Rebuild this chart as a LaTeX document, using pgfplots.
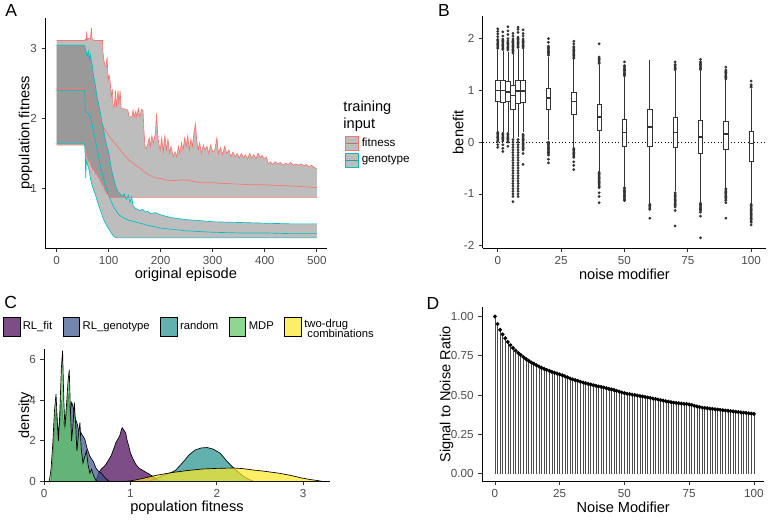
\documentclass[border=0pt]{standalone}
\usepackage{fontspec}
\setmainfont{Liberation Sans}
\usepackage{pgfplots}
\usepackage{pgfplotstable}
\pgfplotsset{compat=1.18}
\usepgfplotslibrary{fillbetween,statistics}

\definecolor{gfit}{HTML}{F8766D}
\definecolor{ggen}{HTML}{00BFC4}
\definecolor{tickgray}{HTML}{4D4D4D}
\definecolor{rib}{HTML}{6D6D6D}
\definecolor{vfit}{HTML}{440154}
\definecolor{vgen}{HTML}{3B528B}
\definecolor{vran}{HTML}{21908C}
\definecolor{vmdp}{HTML}{5DC863}
\definecolor{vtwo}{HTML}{FDE725}

\pgfplotsset{
  gg/.style={
    scale only axis, axis lines*=left, tick align=outside,
    major tick length=2.75pt,
    axis line style={line width=0.55pt, black},
    every tick/.style={line width=0.55pt, black!80},
    ticklabel style={font=\fontsize{8.8}{10}\selectfont, text=tickgray},
    label style={font=\fontsize{11}{13}\selectfont},
    /pgf/number format/assume math mode=true,
  },
  bx/.style={draw=black!80, fill=white, line width=0.5pt, solid, mark=none,
    boxplot/draw direction=y,
    boxplot/box extend=1.8, boxplot/whisker extend=0,
    boxplot/every median/.style={line width=1.1pt}},
  outl/.style={only marks, mark=*, mark size=0.85pt, black!80,
    mark options={fill=black!80, draw=black!80}},
  dens/.style={draw=black, line width=0.5pt, fill opacity=0.7},
}

% panel A: ribbons (upper / lower bounds) and means
\pgfplotstableread{
x y
0 3.12
54 3.12
55 3.14
57 3.12
58 3.25
59 3.13
62 3.15
65 3.14
67 3.30
68 3.14
72 3.12
80 3.12
88 3.12
89 2.95
92 2.78
95 2.74
97 2.88
99 2.55
101 2.62
103 2.52
105 2.30
107 2.42
109 2.16
111 2.18
113 2.40
115 2.16
118 2.40
120 2.20
122 2.40
124 2.14
130 2.14
137 2.12
139 2.02
145 2.03
147 2.12
149 2.02
152 2.10
154 2.03
157 2.14
160 2.02
163 2.13
166 2.12
168 1.80
170 1.60
172 1.57
175 1.63
178 1.72
180 1.60
183 1.75
186 1.65
190 1.80
192 2.07
194 1.80
196 1.65
199 1.55
202 1.72
205 1.52
208 1.75
211 1.55
214 1.70
217 1.50
220 1.60
224 1.45
228 1.52
231 1.45
234 1.60
237 1.50
240 1.65
243 1.55
246 1.72
249 1.60
252 1.75
255 1.55
258 1.70
261 1.60
264 1.80
267 1.92
269 1.70
272 1.55
275 1.65
278 1.50
282 1.62
285 1.55
289 1.60
292 1.50
296 1.62
300 1.52
304 1.55
308 1.72
311 1.50
315 1.58
319 1.48
323 1.60
327 1.50
331 1.55
335 1.45
339 1.52
343 1.45
347 1.50
351 1.43
355 1.50
359 1.44
363 1.48
367 1.42
371 1.50
375 1.43
379 1.48
383 1.42
387 1.50
391 1.44
395 1.47
399 1.42
403 1.45
407 1.35
411 1.38
415 1.34
420 1.38
425 1.35
430 1.37
435 1.33
440 1.36
445 1.34
450 1.37
455 1.33
460 1.35
465 1.33
470 1.35
475 1.32
480 1.34
485 1.31
490 1.33
495 1.30
500 1.28
}\fitup
\pgfplotstableread{
x y
0 1.62
54 1.62
56 1.55
58 1.46
60 1.42
62 1.38
64 1.40
66 1.32
68 1.30
70 1.26
72 1.28
74 1.22
76 1.20
78 1.21
80 1.15
82 1.16
84 1.10
86 1.08
88 1.04
90 1.05
92 0.98
94 0.97
96 0.92
98 0.93
100 0.89
103 0.87
500 0.87
}\fitlo
\pgfplotstableread{
x y
0 2.43
54 2.43
56 2.38
60 2.32
65 2.22
70 2.17
75 2.10
80 2.05
85 1.95
90 1.88
95 1.82
100 1.76
110 1.66
120 1.57
130 1.48
140 1.40
150 1.34
160 1.29
170 1.23
180 1.18
190 1.15
200 1.14
210 1.12
225 1.11
240 1.12
250 1.12
260 1.10
280 1.08
300 1.08
320 1.07
350 1.06
380 1.05
400 1.05
430 1.04
460 1.03
500 1.01
}\fitmean
\pgfplotstableread{
x y
0 3.05
54 3.05
55 3.00
57 2.95
59 2.90
61 2.97
63 2.85
65 2.92
67 2.80
69 2.75
71 2.60
73 2.55
75 2.45
78 2.30
81 2.20
84 2.08
87 1.95
90 1.86
93 1.72
96 1.62
100 1.52
103 1.38
106 1.25
110 1.14
114 1.02
118 0.95
122 0.92
126 0.88
130 0.92
134 0.84
138 0.90
141 0.80
144 0.88
147 0.75
150 0.72
155 0.70
160 0.68
165 0.70
170 0.66
175 0.67
180 0.64
190 0.65
200 0.62
210 0.60
220 0.58
230 0.57
250 0.55
270 0.54
300 0.52
350 0.51
400 0.50
450 0.49
500 0.49
}\genup
\pgfplotstableread{
x y
0 1.64
54 1.64
55 1.45
56 1.15
57 1.40
59 1.35
61 1.30
63 1.25
65 1.14
68 1.05
71 0.98
75 0.90
78 0.82
81 0.75
85 0.67
88 0.60
91 0.54
95 0.48
100 0.42
105 0.36
110 0.31
115 0.29
500 0.29
}\genlo
\pgfplotstableread{
x y
0 2.40
54 2.40
55 2.10
60 2.08
65 2.02
70 1.85
75 1.67
80 1.48
85 1.29
90 1.15
95 1.00
100 0.90
105 0.81
110 0.73
115 0.67
120 0.62
130 0.57
140 0.54
150 0.52
175 0.47
200 0.43
225 0.41
250 0.39
300 0.37
350 0.36
400 0.36
450 0.35
500 0.35
}\genmean

% panel B: outliers per noise level (x = noise modifier, y = benefit)
\pgfplotstableread{
x y
0 1.81
0 1.835
0 1.86
0 1.885
0 1.91
0 1.935
0 1.96
0 1.985
0 2.04
0 2.09
0 2.14
0 2.19
0 0.19
0 0.165
0 0.14
0 0.115
0 0.09
0 0.065
0 0.04
0 0.015
0 -0.05
0 -0.1
2 1.79
2 1.815
2 1.84
2 1.865
2 1.89
2 1.915
2 1.94
2 1.965
2 1.99
2 2.05
2 2.13
2 0.17
2 0.145
2 0.12
2 0.095
2 0.07
2 0.045
2 0.02
2 -0.05
2 -0.12
2 -0.18
4 1.78
4 1.805
4 1.83
4 1.855
4 1.88
4 1.905
4 1.93
4 1.955
4 2.0
4 2.08
4 2.15
4 2.23
4 0.17
4 0.145
4 0.12
4 0.095
4 0.07
4 0.045
4 0.02
4 0.0
4 -0.08
6 1.72
6 1.745
6 1.77
6 1.795
6 1.82
6 1.845
6 1.87
6 1.895
6 1.92
6 1.945
6 1.97
6 1.995
6 2.05
6 2.1
6 0.05
6 0.0
6 -0.05
6 -0.1
6 -0.15
6 -0.2
6 -0.25
6 -0.3
6 -0.35
6 -0.4
6 -0.45
6 -0.5
6 -0.55
6 -0.6
6 -0.65
6 -0.7
6 -0.75
6 -0.8
6 -0.85
6 -0.9
6 -0.95
6 -1.0
6 -1.05
6 -1.15
8 1.83
8 1.855
8 1.88
8 1.905
8 1.93
8 1.955
8 1.98
8 2.005
8 2.03
8 2.12
8 2.18
8 2.22
8 0.05
8 0.0
8 -0.05
8 -0.1
8 -0.15
8 -0.2
8 -0.25
8 -0.3
8 -0.35
8 -0.4
8 -0.45
8 -0.5
8 -0.55
8 -0.6
8 -0.65
8 -0.7
8 -0.75
8 -0.8
8 -0.85
8 -0.9
8 -0.95
8 -1.0
8 -1.05
10 1.82
10 1.845
10 1.87
10 1.895
10 1.92
10 1.945
10 1.97
10 1.995
10 2.05
10 2.1
10 2.17
10 0.15
10 0.125
10 0.1
10 0.075
10 0.05
10 0.025
10 0.0
10 -0.025
10 -0.05
10 -0.075
10 -0.1
10 -0.125
10 -0.15
10 -0.22
10 -0.43
20 1.68
20 1.705
20 1.73
20 1.755
20 1.78
20 1.805
20 1.83
20 1.855
20 1.93
20 2.0
20 0.0
20 -0.025
20 -0.05
20 -0.075
20 -0.1
20 -0.125
20 -0.15
20 -0.175
20 -0.2
20 -0.225
20 -0.25
20 -0.33
20 -0.4
30 1.62
30 1.645
30 1.67
30 1.695
30 1.72
30 1.745
30 1.77
30 1.795
30 1.82
30 1.845
30 1.9
30 1.95
30 -0.12
30 -0.145
30 -0.17
30 -0.195
30 -0.22
30 -0.245
30 -0.27
30 -0.295
30 -0.38
30 -0.45
30 -0.53
40 1.52
40 1.545
40 1.57
40 1.595
40 1.62
40 1.645
40 1.9
40 -0.58
40 -0.605
40 -0.63
40 -0.655
40 -0.68
40 -0.705
40 -0.73
40 -0.755
40 -0.78
40 -0.805
40 -0.83
40 -0.855
40 -0.88
40 -0.98
40 -1.05
40 -1.17
50 1.28
50 1.305
50 1.33
50 1.355
50 1.38
50 1.405
50 1.43
50 1.455
50 1.48
50 1.55
50 -0.88
50 -0.905
50 -0.93
50 -0.955
50 -0.98
50 -1.005
50 -1.03
50 -1.055
50 -1.08
50 -1.105
50 -1.13
60 -1.2
60 -1.225
60 -1.25
60 -1.275
60 -1.3
60 -1.47
70 1.4
70 1.425
70 1.45
70 1.475
70 1.5
70 1.55
70 -0.98
70 -1.005
70 -1.03
70 -1.055
70 -1.08
70 -1.105
70 -1.13
70 -1.155
70 -1.18
70 -1.205
70 -1.23
70 -1.255
70 -1.32
70 -1.62
80 1.4
80 1.425
80 1.45
80 1.475
80 1.5
80 1.525
80 1.55
80 1.6
80 -1.18
80 -1.205
80 -1.23
80 -1.255
80 -1.28
80 -1.305
80 -1.33
80 -1.355
80 -1.43
80 -1.85
90 1.22
90 1.245
90 1.27
90 1.295
90 1.32
90 1.345
90 1.37
90 1.395
90 1.45
90 -0.9
90 -0.925
90 -0.95
90 -0.975
90 -1.0
90 -1.025
90 -1.05
90 -1.075
90 -1.1
90 -1.125
90 -1.17
90 -1.47
100 1.06
100 1.085
100 1.11
100 1.18
100 -1.2
100 -1.225
100 -1.25
100 -1.275
100 -1.3
100 -1.325
100 -1.35
100 -1.375
100 -1.4
100 -1.425
100 -1.45
100 -1.475
100 -1.5
100 -1.525
100 -1.55
100 -1.6
}\outliers

\begin{document}
\begin{tikzpicture}

% ---------------- A ----------------
\begin{axis}[gg, at={(31.3pt,202.7pt)}, anchor=south west,
  width=212.5pt, height=173.8pt,
  xmin=-22, xmax=519, ymin=0.145, ymax=3.446,
  xtick={0,100,200,300,400,500}, ytick={1,2,3},
  xlabel={original episode}, ylabel={population fitness},
  x label style={at={(axis description cs:0.5,-0.118)}, anchor=center},
  y label style={at={(axis description cs:-0.0695,0.5)}, anchor=center},
  legend style={at={(axis description cs:1.0625,0.489)}, anchor=north west,
    draw=none, fill=none, inner sep=0pt, row sep=1pt,
    font=\fontsize{8.8}{10}\selectfont},
  legend cell align=left,
]
\addplot[gfit, line width=0.5pt, forget plot] table {\fitmean};
\addplot[ggen, line width=0.5pt, forget plot] table {\genmean};
\addplot[draw=none, name path=fu, forget plot] table {\fitup};
\addplot[draw=none, name path=fl, forget plot] table {\fitlo};
\addplot[fill=rib, fill opacity=0.45, draw=none, forget plot] fill between[of=fu and fl];
\addplot[gfit, line width=0.5pt, forget plot] table {\fitup};
\addplot[gfit, line width=0.5pt, forget plot] table {\fitlo};
\addplot[draw=none, name path=gu, forget plot] table {\genup};
\addplot[draw=none, name path=gl, forget plot] table {\genlo};
\addplot[fill=rib, fill opacity=0.45, draw=none, forget plot] fill between[of=gu and gl];
\addplot[ggen, line width=0.5pt, forget plot] table {\genup};
\addplot[ggen, line width=0.5pt, forget plot] table {\genlo};
\addlegendimage{legend image code/.code={
  \draw[gfit, line width=0.5pt] (0pt,0pt) -- (10.5pt,0pt);
  \draw[gfit, line width=0.5pt, fill=rib, fill opacity=0.45] (0pt,-5.4pt) rectangle (10.5pt,5.4pt);}}
\addlegendentry{fitness}
\addlegendimage{legend image code/.code={
  \draw[ggen, line width=0.5pt] (0pt,0pt) -- (10.5pt,0pt);
  \draw[ggen, line width=0.5pt, fill=rib, fill opacity=0.45] (0pt,-5.4pt) rectangle (10.5pt,5.4pt);}}
\addlegendentry{genotype}
\end{axis}
\node[anchor=north west, align=left, inner sep=0pt, font=\fontsize{11}{12.5}\selectfont]
  at (256.3pt,313.5pt) {training\\input};

% ---------------- B ----------------
\begin{axis}[gg, at={(361.5pt,202.5pt)}, anchor=south west,
  width=214.2pt, height=175pt,
  xmin=-5.99, xmax=105.99, ymin=-2.05, ymax=2.43,
  xtick={0,25,50,75,100}, ytick={-2,-1,0,1,2},
  xlabel={noise modifier}, ylabel={benefit},
  x label style={at={(axis description cs:0.5,-0.113)}, anchor=center},
  y label style={at={(axis description cs:-0.0865,0.5)}, anchor=center},
]
\addplot[black, dotted, line width=0.5pt] coordinates {(-5.99,0) (105.99,0)};
\addplot[outl] table {\outliers};
\addplot+[bx, boxplot prepared={draw position=0, lower whisker=0.22, lower quartile=0.79, median=1.0, upper quartile=1.2, upper whisker=1.78}] coordinates {};
\addplot+[bx, boxplot prepared={draw position=2, lower whisker=0.2, lower quartile=0.77, median=1.0, upper quartile=1.2, upper whisker=1.76}] coordinates {};
\addplot+[bx, boxplot prepared={draw position=4, lower whisker=0.2, lower quartile=0.79, median=0.97, upper quartile=1.17, upper whisker=1.75}] coordinates {};
\addplot+[bx, boxplot prepared={draw position=6, lower whisker=0.08, lower quartile=0.63, median=0.9, upper quartile=1.09, upper whisker=1.7}] coordinates {};
\addplot+[bx, boxplot prepared={draw position=8, lower whisker=0.1, lower quartile=0.75, median=0.99, upper quartile=1.2, upper whisker=1.8}] coordinates {};
\addplot+[bx, boxplot prepared={draw position=10, lower whisker=0.2, lower quartile=0.77, median=0.99, upper quartile=1.2, upper whisker=1.8}] coordinates {};
\addplot+[bx, boxplot prepared={draw position=20, lower whisker=0.05, lower quartile=0.63, median=0.85, upper quartile=1.04, upper whisker=1.65}] coordinates {};
\addplot+[bx, boxplot prepared={draw position=30, lower whisker=-0.1, lower quartile=0.53, median=0.78, upper quartile=0.97, upper whisker=1.6}] coordinates {};
\addplot+[bx, boxplot prepared={draw position=40, lower whisker=-0.55, lower quartile=0.22, median=0.49, upper quartile=0.74, upper whisker=1.5}] coordinates {};
\addplot+[bx, boxplot prepared={draw position=50, lower whisker=-0.85, lower quartile=-0.08, median=0.19, upper quartile=0.45, upper whisker=1.25}] coordinates {};
\addplot+[bx, boxplot prepared={draw position=60, lower whisker=-1.18, lower quartile=-0.08, median=0.29, upper quartile=0.64, upper whisker=1.58}] coordinates {};
\addplot+[bx, boxplot prepared={draw position=70, lower whisker=-0.95, lower quartile=-0.11, median=0.19, upper quartile=0.47, upper whisker=1.38}] coordinates {};
\addplot+[bx, boxplot prepared={draw position=80, lower whisker=-1.15, lower quartile=-0.21, median=0.1, upper quartile=0.42, upper whisker=1.38}] coordinates {};
\addplot+[bx, boxplot prepared={draw position=90, lower whisker=-0.88, lower quartile=-0.13, median=0.16, upper quartile=0.4, upper whisker=1.2}] coordinates {};
\addplot+[bx, boxplot prepared={draw position=100, lower whisker=-1.18, lower quartile=-0.37, median=-0.03, upper quartile=0.2, upper whisker=1.03}] coordinates {};
\end{axis}

% ---------------- C ----------------
\begin{axis}[gg, at={(30.5pt,26.5pt)}, anchor=south west,
  width=215.7pt, height=100pt,
  xmin=0, xmax=3.31, ymin=0, ymax=6.54,
  xtick={0,1,2,3}, ytick={0,2,4,6},
  xlabel={population fitness}, ylabel={density},
  x label style={at={(axis description cs:0.5,-0.2)}, anchor=center},
  y label style={at={(axis description cs:-0.066,0.5)}, anchor=center},
  legend style={at={(axis description cs:-0.145,1.167)}, anchor=west,
    draw=none, fill=none, inner sep=0pt, font=\fontsize{8.5}{9.2}\selectfont,
    /tikz/every even column/.append style={column sep=6pt}},
  legend columns=5, legend cell align=left,
]
\addplot[dens, fill=vfit, forget plot] coordinates {
(0.60,0)(0.63,0.4)(0.66,0.6)(0.70,0.75)(0.74,1.0)(0.78,1.3)(0.81,1.65)(0.83,1.9)
(0.85,2.05)(0.87,2.2)(0.88,2.3)(0.895,2.55)(0.905,2.65)(0.92,2.55)(0.945,2.4)(0.96,2.05)
(0.98,1.75)(1.0,1.4)(1.02,1.2)(1.06,0.85)(1.10,0.65)(1.16,0.5)(1.22,0.35)(1.27,0.22)
(1.32,0.08)(1.36,0)} \closedcycle;
\addplot[dens, fill=vgen, forget plot] coordinates {
(0.08,0)(0.10,1.0)(0.12,2.6)(0.14,3.5)(0.16,2.4)(0.18,2.9)(0.20,4.0)(0.22,3.0)(0.24,2.6)
(0.26,3.3)(0.28,4.3)(0.30,3.4)(0.32,3.9)(0.34,3.6)(0.36,3.1)(0.38,2.9)(0.40,2.5)
(0.42,2.45)(0.44,2.3)(0.47,2.1)(0.50,1.6)(0.53,1.24)(0.57,0.98)(0.60,0.66)(0.63,0.5)
(0.66,0.41)(0.70,0.2)(0.74,0.04)(0.76,0)} \closedcycle;
\addplot[dens, fill=vran, forget plot] coordinates {
(1.22,0)(1.30,0.15)(1.40,0.32)(1.48,0.45)(1.524,0.55)(1.60,0.9)(1.68,1.31)(1.75,1.55)
(1.82,1.65)(1.889,1.67)(1.96,1.59)(2.04,1.39)(2.12,0.98)(2.195,0.66)(2.25,0.45)
(2.32,0.22)(2.38,0.08)(2.43,0)} \closedcycle;
\addplot[dens, fill=vmdp, forget plot] coordinates {
(0.06,0)(0.08,0.6)(0.10,1.8)(0.12,3.5)(0.138,4.3)(0.155,2.8)(0.166,2.0)(0.18,3.2)
(0.20,5.6)(0.214,6.45)(0.228,4.0)(0.241,2.7)(0.26,3.8)(0.278,5.0)(0.291,5.5)(0.305,3.5)
(0.318,2.0)(0.335,2.8)(0.35,3.9)(0.365,2.8)(0.38,1.5)(0.40,2.4)(0.415,2.9)(0.43,1.6)
(0.45,0.9)(0.47,1.2)(0.49,1.5)(0.51,0.8)(0.53,0.4)(0.55,0.6)(0.57,0.3)(0.60,0.05)(0.62,0)} \closedcycle;
\addplot[dens, fill=vtwo, forget plot] coordinates {
(0.95,0)(1.05,0.06)(1.15,0.15)(1.30,0.3)(1.49,0.44)(1.65,0.53)(1.83,0.61)(2.0,0.64)
(2.195,0.66)(2.30,0.63)(2.406,0.57)(2.55,0.5)(2.71,0.41)(2.85,0.3)(2.98,0.17)
(3.08,0.09)(3.17,0.04)(3.22,0)} \closedcycle;
\addlegendimage{legend image code/.code={\draw[black, line width=0.5pt, fill=vfit, fill opacity=0.7] (0pt,-6.9pt) rectangle (12.5pt,6.9pt);}}
\addlegendentry{RL\_fit}
\addlegendimage{legend image code/.code={\draw[black, line width=0.5pt, fill=vgen, fill opacity=0.7] (0pt,-6.9pt) rectangle (12.5pt,6.9pt);}}
\addlegendentry{RL\_genotype}
\addlegendimage{legend image code/.code={\draw[black, line width=0.5pt, fill=vran, fill opacity=0.7] (0pt,-6.9pt) rectangle (12.5pt,6.9pt);}}
\addlegendentry{random}
\addlegendimage{legend image code/.code={\draw[black, line width=0.5pt, fill=vmdp, fill opacity=0.7] (0pt,-6.9pt) rectangle (12.5pt,6.9pt);}}
\addlegendentry{MDP}
\addlegendimage{legend image code/.code={\draw[black, line width=0.5pt, fill=vtwo, fill opacity=0.7] (0pt,-6.9pt) rectangle (12.5pt,6.9pt);}}
\addlegendentry{\begin{tabular}{@{}l@{}}two-drug\\[-2pt]\ combinations\end{tabular}}
\end{axis}

% ---------------- D ----------------
\begin{axis}[gg, at={(361pt,26.5pt)}, anchor=south west,
  width=213.3pt, height=131.25pt,
  xmin=-5, xmax=104.1, ymin=-0.049, ymax=1.057,
  xtick={0,25,50,75,100}, ytick={0,0.25,0.5,0.75,1},
  yticklabel style={/pgf/number format/.cd, fixed, fixed zerofill, precision=2},
  xlabel={Noise Modifier}, ylabel={Signal to Noise Ratio},
  x label style={at={(axis description cs:0.5,-0.152)}, anchor=center},
  y label style={at={(axis description cs:-0.125,0.5)}, anchor=center},
]
\addplot[ycomb, black!70, line width=0.45pt, mark=*, mark size=1.25pt,
  mark options={fill=black, draw=black}] coordinates {
(0,1.000)(1,0.952)(2,0.915)(3,0.886)(4,0.861)(5,0.838)(6,0.817)(7,0.799)(8,0.783)(9,0.768)
(10,0.755)(11,0.742)(12,0.730)(13,0.719)(14,0.708)(15,0.699)(16,0.690)(17,0.682)(18,0.674)(19,0.667)
(20,0.660)(21,0.654)(22,0.648)(23,0.642)(24,0.637)(25,0.632)(26,0.626)(27,0.620)(28,0.613)(29,0.606)
(30,0.600)(31,0.595)(32,0.590)(33,0.585)(34,0.580)(35,0.575)(36,0.571)(37,0.567)(38,0.563)(39,0.559)
(40,0.555)(41,0.552)(42,0.548)(43,0.544)(44,0.540)(45,0.536)(46,0.532)(47,0.527)(48,0.522)(49,0.517)
(50,0.512)(51,0.509)(52,0.506)(53,0.503)(54,0.500)(55,0.497)(56,0.494)(57,0.491)(58,0.488)(59,0.485)
(60,0.482)(61,0.478)(62,0.475)(63,0.472)(64,0.468)(65,0.465)(66,0.461)(67,0.458)(68,0.455)(69,0.452)
(70,0.450)(71,0.448)(72,0.446)(73,0.444)(74,0.443)(75,0.441)(76,0.437)(77,0.432)(78,0.428)(79,0.424)
(80,0.420)(81,0.418)(82,0.416)(83,0.414)(84,0.412)(85,0.410)(86,0.408)(87,0.406)(88,0.404)(89,0.402)
(90,0.400)(91,0.398)(92,0.396)(93,0.394)(94,0.392)(95,0.390)(96,0.388)(97,0.386)(98,0.384)(99,0.382)
(100,0.380)};
\end{axis}

% panel tags
\node[font=\fontsize{13.2}{14}\selectfont] at (5.6pt,382pt) {A};
\node[font=\fontsize{13.2}{14}\selectfont] at (332.3pt,382pt) {B};
\node[font=\fontsize{13.2}{14}\selectfont] at (5.3pt,161.6pt) {C};
\node[font=\fontsize{13.2}{14}\selectfont] at (324pt,160.9pt) {D};
\path (0pt,0pt) rectangle (576pt,387.75pt);
\end{tikzpicture}
\end{document}
